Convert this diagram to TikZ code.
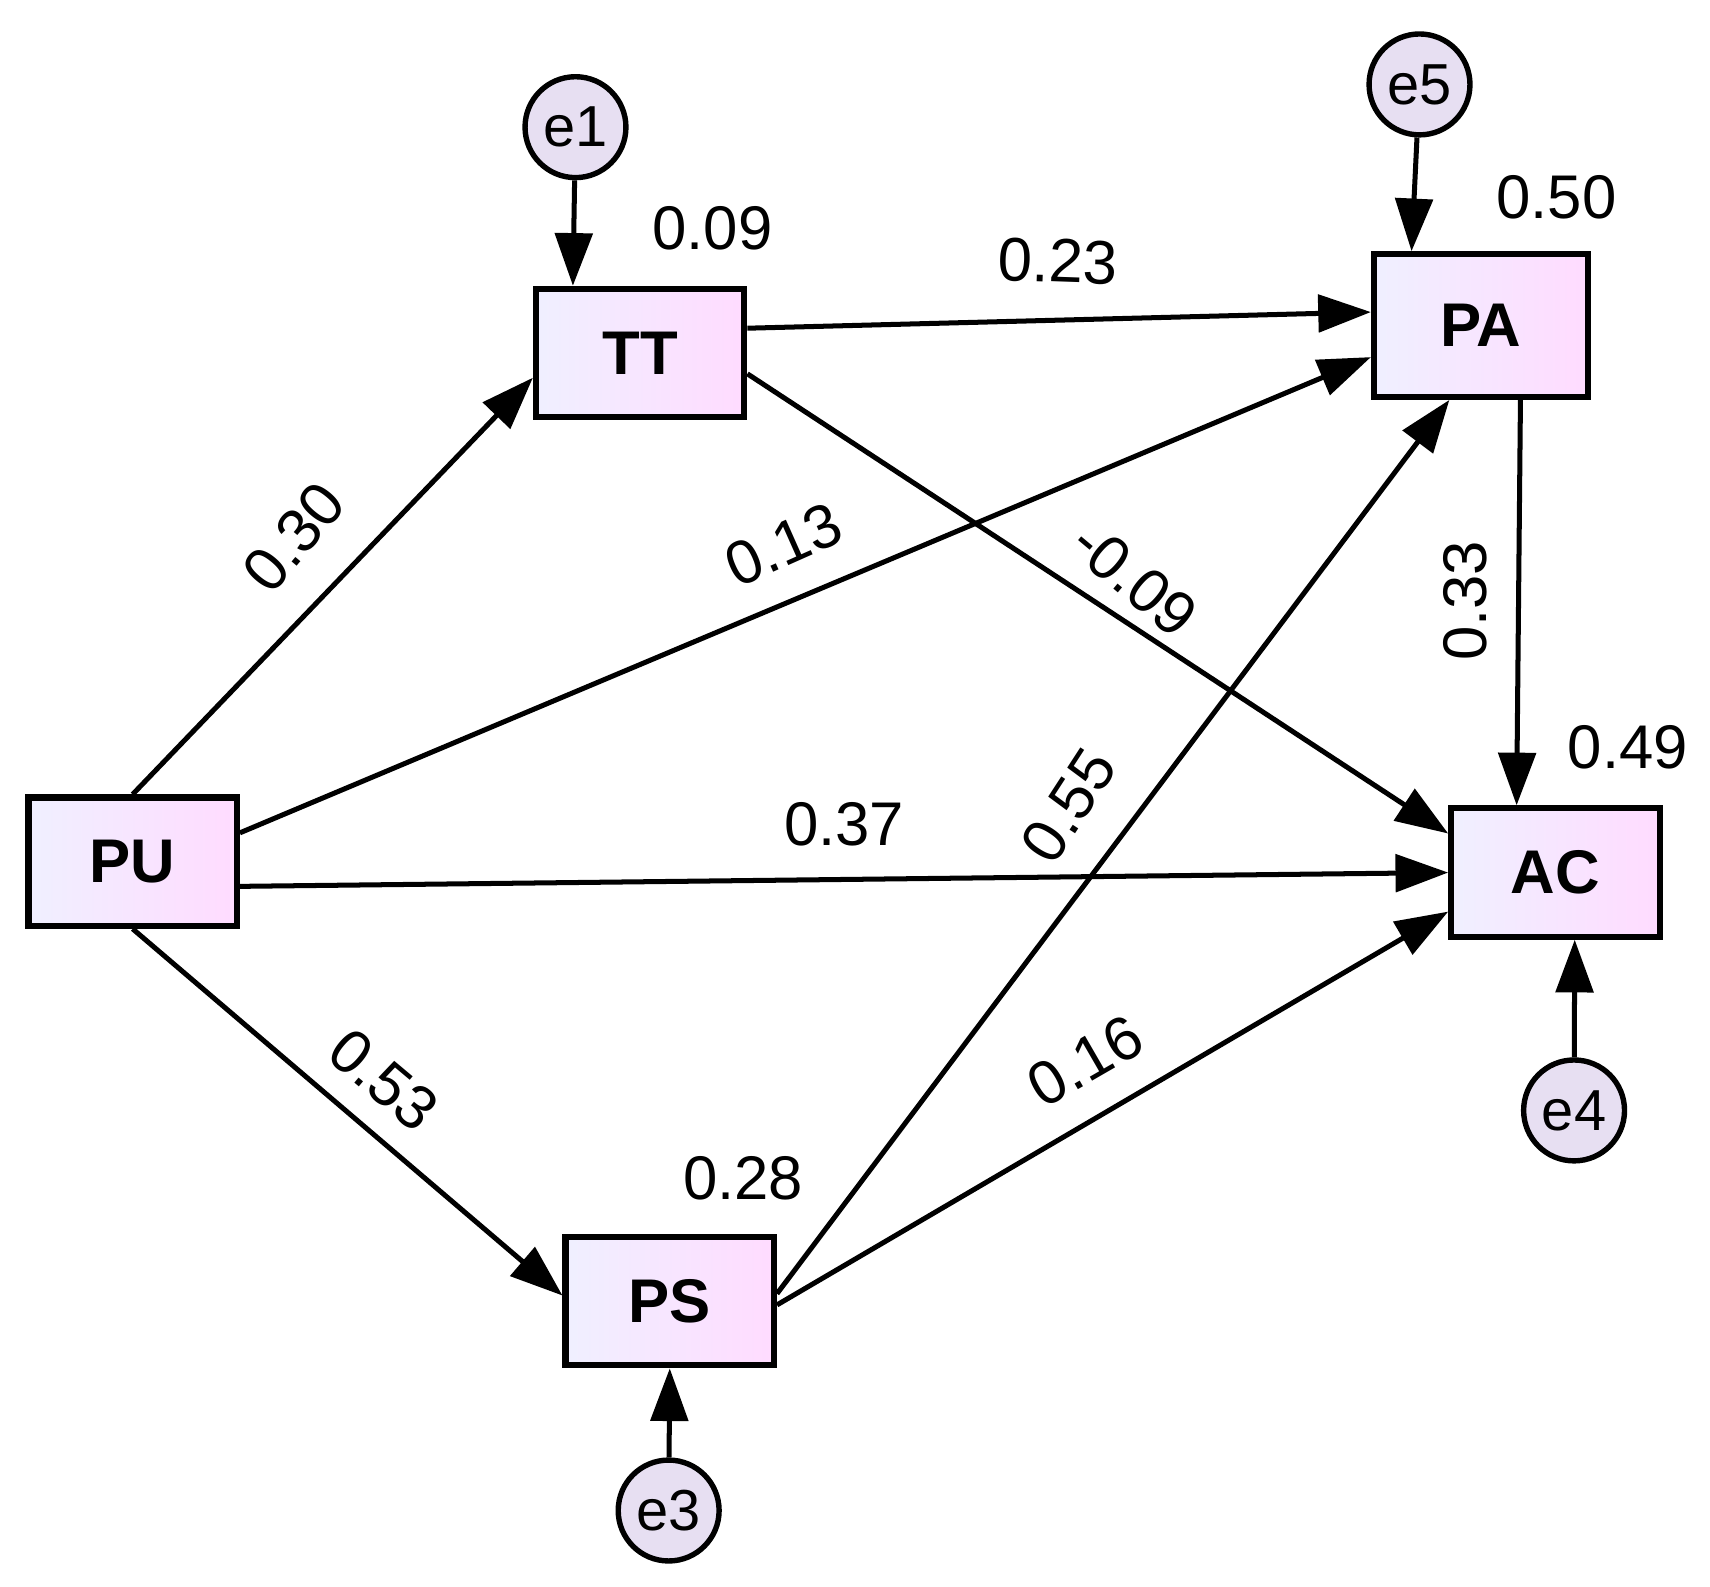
\documentclass[tikz,border=0pt]{standalone}
\usepackage{fontspec}
\setmainfont{Liberation Sans}
\usetikzlibrary{arrows.meta,positioning,shapes}

\begin{document}
\begin{tikzpicture}[x=0.01cm,y=-0.01cm,
  var/.style={rectangle,draw,line width=1.6pt,minimum width=1.9cm,minimum height=1.17cm,
    left color=blue!6!white,right color=magenta!14!white,font=\fontsize{16}{16}\selectfont\bfseries},
  err/.style={circle,draw,line width=1.4pt,minimum size=0.92cm,inner sep=0pt,
    fill=magenta!10!blue!10!white,font=\fontsize{15}{15}\selectfont},
  coef/.style={font=\fontsize{16}{16}\selectfont,inner sep=0pt},
  path/.style={line width=1.3pt,-{Triangle[length=0.48cm,width=0.34cm]}}]
  \useasboundingbox (0,0) rectangle (1560,1447);

  % Variables
  \node[var] (pu) at (121,786) {PU};
  \node[var] (tt) at (584,322) {TT};
  \node[var,minimum width=1.95cm,minimum height=1.3cm] (pa) at (1351,297) {PA};
  \node[var] (ac) at (1419,796) {AC};
  \node[var] (ps) at (611,1187) {PS};

  % Errors
  \node[err] (e1) at (525,116) {e1};
  \node[err] (e5) at (1295,77) {e5};
  \node[err] (e4) at (1436,1013) {e4};
  \node[err] (e3) at (610,1378) {e3};

  % Paths
  \draw[path] (pu.north) -- (tt.193);
  \draw[path] (pu.15) -- (pa.196);
  \draw[path] (pu.-13) -- (ac.west);
  \draw[path] (pu.south) -- (ps.177);
  \draw[path] (tt.13) -- (pa.173);
  \draw[path] (tt.-11) -- (ac.160);
  \draw[path] (ps.4) -- (pa.247);
  \draw[path] (ps.-2) -- (ac.200);
  \draw[path] (pa.-62) -- (ac.120);
  \draw[path] (e1) -- (tt.135);
  \draw[path] (e5) -- (pa.133);
  \draw[path] (e4) -- (ac.-74);
  \draw[path] (e3) -- (ps.south);

  % R squared
  \node[coef] (r1) at (650,208) {0.09};
  \node[coef] (r5) at (1420,180) {0.50};
  \node[coef] (r4) at (1485,682) {0.49};
  \node[coef] (r3) at (678,1075) {0.28};

  % Coefficients
  \node[coef,rotate=-2] (c1) at (965,238) {0.23};
  \node[coef,rotate=50] (c2) at (268,490) {0.30};
  \node[coef,rotate=24] (c3) at (715,497) {0.13};
  \node[coef,rotate=-40] (c4) at (1035,528) {-0.09};
  \node[coef,rotate=90] (c5) at (1337,548) {0.33};
  \node[coef] (c6) at (770,752) {0.37};
  \node[coef,rotate=57] (c7) at (975,735) {0.55};
  \node[coef,rotate=-40] (c8) at (350,985) {0.53};
  \node[coef,rotate=30] (c9) at (990,968) {0.16};
\end{tikzpicture}
\end{document}
